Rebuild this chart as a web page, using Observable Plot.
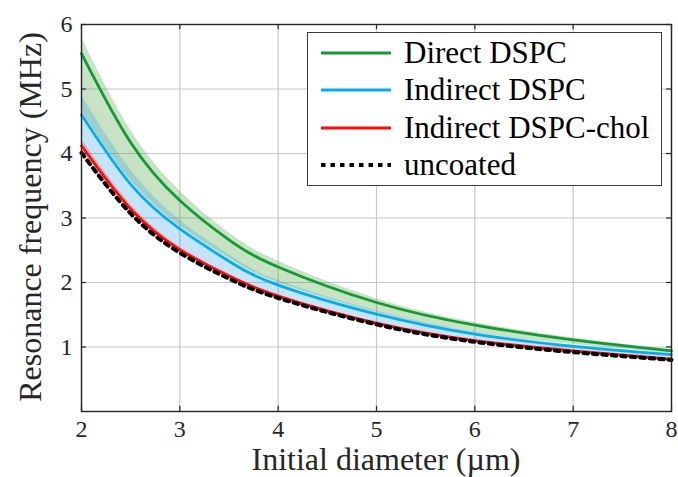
<!DOCTYPE html>
<html>
<head>
<meta charset="utf-8">
<script src="https://cdn.jsdelivr.net/npm/d3@7"></script>
<script src="https://cdn.jsdelivr.net/npm/@observablehq/plot@0.6"></script>
<style>
  body { margin: 0; background: #fff; }
  #wrap { position: relative; width: 678px; height: 477px; font-family: "Liberation Serif", serif; color: #262626; }
  #wrap svg.plot { position: absolute; left: 0; top: 0; }
  .lbl { position: absolute; font-size: 32px; white-space: nowrap; line-height: 1; color: #262626; }
  #legend { position: absolute; left: 307px; top: 32px; width: 353px; height: 152px; border: 1.5px solid #3a3a3a; background: #fff; }
  .row { position: absolute; left: 0; height: 36px; display: flex; align-items: center; font-size: 31px; color: #000; }
  .row svg { margin-left: 13px; margin-right: 13px; }
</style>
</head>
<body>
<div id="wrap"></div>
<script>
// ---- data ----
const diameter = [2, 2.5, 3, 3.5, 4, 5, 6, 7, 8];
const directDSPC      = [5.55, 4.17, 3.27, 2.66, 2.24, 1.69, 1.34, 1.11, 0.94];
const directDSPCHi    = [5.80, 4.36, 3.42, 2.77, 2.33, 1.75, 1.38, 1.14, 0.96];
const directDSPCLo    = [4.66, 3.58, 2.88, 2.38, 2.00, 1.54, 1.22, 1.04, 0.90];
const indirectDSPC    = [4.60, 3.52, 2.83, 2.33, 1.96, 1.51, 1.20, 1.01, 0.88];
const indirectDSPCHi  = [4.90, 3.75, 2.97, 2.43, 2.03, 1.56, 1.23, 1.03, 0.90];
const indirectDSPCLo  = [4.15, 3.16, 2.52, 2.11, 1.80, 1.38, 1.10, 0.95, 0.82];
const cholDSPC        = [4.12, 3.14, 2.51, 2.10, 1.79, 1.37, 1.10, 0.94, 0.81];
const cholDSPCHi      = [4.22, 3.21, 2.55, 2.13, 1.81, 1.38, 1.11, 0.95, 0.82];
const cholDSPCLo      = [4.06, 3.10, 2.48, 2.08, 1.77, 1.36, 1.09, 0.93, 0.80];
const uncoated        = [4.01, 3.07, 2.46, 2.06, 1.76, 1.35, 1.08, 0.92, 0.80];
const xTicks = [2, 3, 4, 5, 6, 7, 8];
const yTicks = [1, 2, 3, 4, 5, 6];
const seriesNames = ["Direct DSPC", "Indirect DSPC", "Indirect DSPC-chol", "uncoated"];
const seriesColors = ["#129a34", "#05aeea", "#ff0a0a", "#000000"];

const rows = (ys, lo, hi) => diameter.map((d, i) => ({x: d, y: ys[i], lo: lo ? lo[i] : null, hi: hi ? hi[i] : null}));
const green = rows(directDSPC, directDSPCLo, directDSPCHi);
const blue = rows(indirectDSPC, indirectDSPCLo, indirectDSPCHi);
const red = rows(cholDSPC, cholDSPCLo, cholDSPCHi);
const black = rows(uncoated);

const curve = "natural";
const tickLenY = 0.08, tickLenX = 0.05;
const dotDash = "4.5,5";

const chart = Plot.plot({
  width: 678,
  height: 477,
  marginLeft: 81,
  marginRight: 7,
  marginTop: 24,
  marginBottom: 66,
  style: {fontFamily: "Liberation Serif, serif", fontSize: "24px", color: "#262626", background: "#fff"},
  x: {domain: [2, 8]},
  y: {domain: [0, 6]},
  marks: [
    Plot.gridX(xTicks, {stroke: "#c8c8c8", strokeOpacity: 1, strokeWidth: 1.2}),
    Plot.gridY(yTicks, {stroke: "#c8c8c8", strokeOpacity: 1, strokeWidth: 1.2}),
    Plot.areaY(green, {x: "x", y1: "lo", y2: "hi", fill: "#4aa33a", fillOpacity: 0.3, curve}),
    Plot.areaY(blue, {x: "x", y1: "lo", y2: "hi", fill: "#1c93e0", fillOpacity: 0.25, curve}),
    Plot.areaY(red, {x: "x", y1: "lo", y2: "hi", fill: "#ff3030", fillOpacity: 0.3, curve}),
    Plot.line(green, {x: "x", y: "y", stroke: seriesColors[0], strokeWidth: 2.8, curve}),
    Plot.line(blue, {x: "x", y: "y", stroke: seriesColors[1], strokeWidth: 2.8, curve}),
    Plot.line(red, {x: "x", y: "y", stroke: seriesColors[2], strokeWidth: 2.8, curve}),
    Plot.line(black, {x: "x", y: "y", stroke: seriesColors[3], strokeWidth: 4, strokeDasharray: dotDash, curve}),
    // inward ticks
    Plot.ruleX(xTicks, {y1: 0, y2: tickLenY, stroke: "#262626", strokeWidth: 1.2}),
    Plot.ruleX(xTicks, {y1: 6 - tickLenY, y2: 6, stroke: "#262626", strokeWidth: 1.2}),
    Plot.ruleY(yTicks, {x1: 2, x2: 2 + tickLenX, stroke: "#262626", strokeWidth: 1.2}),
    Plot.ruleY(yTicks, {x1: 8 - tickLenX, x2: 8, stroke: "#262626", strokeWidth: 1.2}),
    Plot.frame({stroke: "#262626", strokeWidth: 1.4}),
    Plot.axisX(xTicks, {tickSize: 0, tickPadding: 8, label: null, fontSize: 24, fill: "#262626", tickFormat: d => String(d)}),
    Plot.axisY(yTicks, {tickSize: 0, tickPadding: 9, label: null, fontSize: 24, fill: "#262626", tickFormat: d => String(d)})
  ]
});
chart.classList.add("plot");
const wrap = document.getElementById("wrap");
wrap.appendChild(chart);

// axis labels
const xl = document.createElement("div");
xl.className = "lbl";
xl.textContent = "Initial diameter (µm)";
wrap.appendChild(xl);
xl.style.top = "443px";
xl.style.left = (386 - xl.offsetWidth / 2) + "px";

const yl = document.createElement("div");
yl.className = "lbl";
yl.textContent = "Resonance frequency (MHz)";
wrap.appendChild(yl);
const w = yl.offsetWidth, h = yl.offsetHeight;
yl.style.left = (30 - w / 2) + "px";
yl.style.top = (217 - h / 2) + "px";
yl.style.transform = "rotate(-90deg)";

// legend
const lg = document.createElement("div");
lg.id = "legend";
seriesNames.forEach((name, i) => {
  const r = document.createElement("div");
  r.className = "row";
  r.style.top = (2 + i * 37.3) + "px";
  const dash = i === 3 ? `stroke-dasharray="${dotDash}"` : "";
  const sw = i === 3 ? 4 : 2.8;
  r.innerHTML = `<svg width="70" height="10"><line x1="0" y1="5" x2="70" y2="5" stroke="${seriesColors[i]}" stroke-width="${sw}" ${dash}/></svg><span>${name}</span>`;
  lg.appendChild(r);
});
wrap.appendChild(lg);
</script>
</body>
</html>
